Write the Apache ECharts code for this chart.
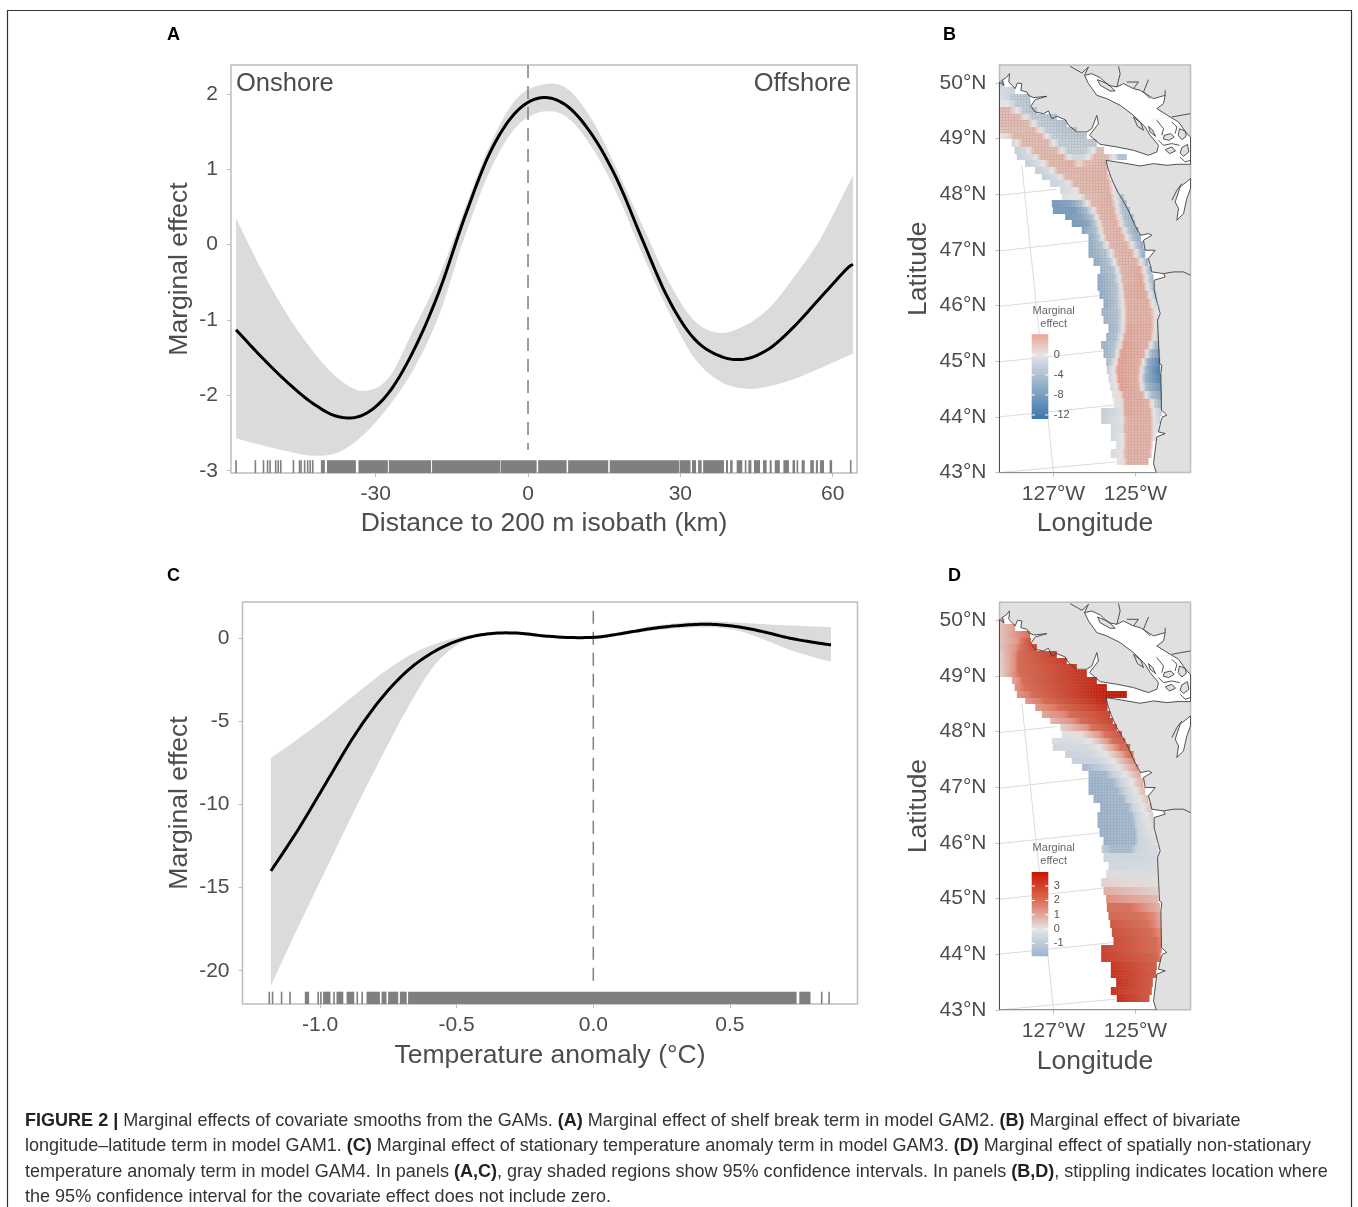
<!DOCTYPE html>
<html><head><meta charset="utf-8">
<script src="https://cdn.jsdelivr.net/npm/echarts@6/dist/echarts.min.js"></script>
<style>html,body{margin:0;padding:0;background:#fff}#c{width:1358px;height:1207px}</style>
</head><body><div id="c"></div>
<script>
// ---------- Panel A ----------
const distKm=[-57.5,-52.5,-47.5,-42.5,-37.5,-32.5,-27.5,-22.5,-17.5,-12.5,-7.5,-2.5,2.5,7.5,12.5,17.5,22.5,27.5,32.5,37.5,42.5,47.5,52.5,57.5,62.5,64];
const shelfEffect=[-1.13,-1.49,-1.82,-2.1,-2.28,-2.26,-1.97,-1.4,-0.62,0.36,1.22,1.75,1.95,1.85,1.47,0.87,0.07,-0.7,-1.23,-1.47,-1.52,-1.38,-1.08,-0.71,-0.34,-0.26];
const shelfUpper=[0.35,-0.33,-0.92,-1.4,-1.77,-1.94,-1.77,-1.12,-0.42,0.47,1.32,1.92,2.12,2.08,1.67,1.0,0.26,-0.46,-0.99,-1.17,-1.08,-0.84,-0.42,0.07,0.72,0.92];
const shelfLower=[-2.57,-2.66,-2.74,-2.8,-2.76,-2.53,-2.15,-1.65,-0.93,0.1,0.98,1.55,1.76,1.7,1.3,0.68,-0.12,-0.86,-1.48,-1.8,-1.91,-1.88,-1.78,-1.64,-1.49,-1.45];
const rugA=[[-57.5,-57.5],[-53.7,-53.7],[-52.1,-52.1],[-51.3,-51.3],[-50.8,-50.8],[-49.7,-49.7],[-49.2,-49.2],[-48.7,-48.7],[-46.2,-46.2],[-45,-45],[-44.7,-44.7],[-44,-44],[-43.4,-43.4],[-42.9,-42.9],[-42.4,-42.4],[-40.8,-40],[-39.6,-33.9],[-33.4,-27.6],[-27.4,-19.1],[-18.9,-5.5],[-5.4,1.7],[2,7.6],[7.9,15.8],[16.1,29.8],[29.9,32],[32.3,33.1],[33.5,34.2],[34.5,38.6],[39,39.4],[39.8,40.3],[41.1,42.2],[42.7,43],[43.4,44],[44.5,45.7],[46.3,47],[47.6,48],[48.6,49.6],[50.3,51.4],[52.1,52.6],[52.9,53.2],[53.9,54.5],[55.6,56.3],[56.7,57.1],[57.5,58.3],[59.4,59.9],[63.4,63.7]];
// ---------- Panel C ----------
const tempAnom=[-1.18,-1.08,-0.98,-0.88,-0.78,-0.68,-0.58,-0.48,-0.38,-0.28,-0.18,-0.08,0.02,0.12,0.22,0.32,0.42,0.52,0.62,0.72,0.82,0.87];
const tempEffect=[-14,-11.5,-8.75,-6,-3.7,-1.95,-0.78,-0.06,0.27,0.31,0.14,0.04,0.08,0.33,0.6,0.77,0.84,0.71,0.4,0,-0.28,-0.4];
const tempUpper=[-7.2,-6.05,-4.82,-3.5,-2.2,-1.1,-0.34,0.1,0.35,0.39,0.22,0.12,0.16,0.44,0.74,0.93,1.02,0.95,0.85,0.77,0.7,0.66];
const tempLower=[-20.9,-17.35,-13.95,-10.55,-7.3,-4.2,-1.6,-0.22,0.2,0.23,0.07,-0.03,0,0.22,0.46,0.61,0.66,0.5,-0.05,-0.7,-1.2,-1.4];
const rugC=[[-1.186,-1.186],[-1.174,-1.174],[-1.141,-1.141],[-1.11,-1.11],[-1.056,-1.04],[-1.007,-1.007],[-0.997,-0.997],[-0.989,-0.962],[-0.952,-0.946],[-0.94,-0.915],[-0.903,-0.875],[-0.864,-0.864],[-0.846,-0.846],[-0.83,-0.781],[-0.775,-0.757],[-0.751,-0.714],[-0.708,-0.683],[-0.678,0.744],[0.754,0.795],[0.836,0.836],[0.863,0.863]];
// ---------- Map panels: projected easting / northing units ----------
const eastTicks=[460,706], eastLabels=['127°W','125°W'];
const northTicks=[188,355,522,689,856,1023,1190,1357], northLabels=['50°N','49°N','48°N','47°N','46°N','45°N','44°N','43°N'];
const oceanAndSea=[[298,185],[312,195],[305,180],[318,172],[328,160],[326,185],[345,205],[352,188],[365,190],[362,210],[380,215],[385,225],[400,232],[440,228],[405,238],[392,258],[405,275],[430,280],[445,272],[455,295],[470,288],[495,298],[505,315],[530,335],[560,335],[575,325],[590,285],[595,310],[568,345],[600,372],[650,380],[700,390],[745,405],[770,395],[775,375],[750,345],[735,320],[700,285],[660,255],[620,235],[590,225],[565,190],[553,165],[575,160],[600,172],[625,195],[650,200],[670,190],[700,205],[720,210],[760,235],[795,225],[790,250],[770,265],[810,290],[835,305],[860,340],[871,350],[871,432],[830,432],[800,435],[760,430],[720,437],[680,430],[650,425],[618,420],[622,440],[632,470],[650,510],[665,535],[682,565],[700,605],[712,630],[722,645],[745,640],[755,645],[730,660],[735,690],[765,690],[745,715],[755,755],[790,760],[795,770],[762,780],[762,810],[772,850],[780,880],[772,900],[778,1030],[785,1035],[782,1060],[784,1170],[800,1185],[787,1190],[783,1200],[775,1235],[795,1240],[770,1250],[760,1330],[768,1357],[298,1357]];
const pugetInlet=[[871,475],[840,500],[825,545],[835,565],[830,600],[850,580],[860,535],[871,505]];
const islands=[[[592,178],[625,192],[645,212],[630,212],[600,195]],[[700,290],[722,308],[730,330],[712,318]],[[745,318],[758,330],[766,348],[750,335]],[[792,345],[812,340],[822,350],[806,360],[790,356]],[[838,325],[856,333],[858,348],[845,358],[834,345]],[[795,388],[815,380],[826,392],[808,400]],[[845,382],[862,372],[866,395],[850,408],[840,398]]];
const shoreLines=[[[790,760],[820,755],[850,755],[871,765]],[[815,290],[871,280]],[[510,138],[545,158],[565,140],[553,165]],[[655,138],[660,160],[650,200]],[[680,185],[715,185],[700,205]],[[745,178],[730,215],[750,235]],[[795,210],[795,225]],[[770,300],[790,325],[785,345]],[[815,305],[830,320],[825,340]],[[775,360],[790,375],[815,370],[838,375]],[[840,410],[855,425],[871,420]],[[815,540],[830,510],[845,490]]];
const graticule=[[[298,1357],[650,1325]],[[298,1190],[640,1155]],[[298,1025],[610,992]],[[298,858],[600,826]],[[298,692],[565,662]],[[298,525],[470,507]],[[460,1357],[365,435]],[[750,300],[815,290]],[[553,135],[562,190]]];
const rowNorthing=[190,210,230,250,270,290,310,330,345,370,390,410,430,450,470,490,510,530,550,570,590,610,630,650,675,700,725,750,775,800,825,850,875,900,925,950,975,1000,1025,1050,1075,1100,1125,1150,1175,1200,1225,1250,1275,1300,1325];
const fieldB=[
[[298,-2],[312,-2]],
[[298,-1],[345,-2]],
[[298,-0.5],[330,-2],[390,-3]],
[[298,0],[320,0],[345,-2],[392,-3]],
[[298,2.5],[330,2.5],[350,0],[365,-2],[410,-3.5]],
[[298,2.5],[360,2.5],[375,0],[392,-2],[470,-3.5]],
[[298,2.5],[385,2.5],[400,0],[415,-2],[500,-3.5]],
[[298,2],[405,2.5],[420,0],[435,-2],[530,-3.5]],
[[298,0],[320,0.5],[340,2.5],[425,2.5],[440,0],[455,-2],[560,-3]],
[[335,-2],[350,0],[365,2.5],[445,2.5],[460,0],[475,-2],[590,-2.5]],
[[343,-2.5],[375,-1.5],[385,0],[398,2.5],[470,2.5],[485,0],[500,-2],[560,-2],[580,0],[590,2],[612,2]],
[[350,-2.5],[395,-1],[408,0],[420,2.5],[490,2.8],[505,0],[520,-1.5],[545,-1.5],[565,0],[580,2.5],[625,2],[640,0],[655,-3],[680,-3]],
[[375,-2.5],[415,-1],[430,0],[445,2.5],[520,3],[535,1],[550,2],[620,3]],
[[405,-2.5],[445,-1],[458,0],[470,2.5],[622,3]],
[[425,-2.5],[468,-1],[482,0],[495,2.5],[620,3],[630,0.5]],
[[450,-2],[490,-1],[505,0],[520,2.5],[625,3],[638,0],[645,-1]],
[[480,-1.5],[515,-0.5],[528,0],[540,2.5],[628,3],[640,0],[655,-2]],
[[485,-0.5],[540,0],[555,2],[632,3],[645,0],[660,-3],[672,-3]],
[[455,-8],[510,-7],[545,-3],[562,0],[575,2.5],[635,3],[650,0],[662,-3],[680,-3.5]],
[[458,-8],[520,-8],[560,-4],[580,0],[592,2.5],[640,3],[652,0],[665,-3],[690,-4]],
[[495,-8],[540,-7],[578,-3],[590,0],[600,2.5],[645,3],[658,0],[670,-3],[700,-5]],
[[515,-8],[560,-7],[585,-3],[597,0],[608,2.5],[650,3],[663,0],[675,-3],[705,-5]],
[[545,-7],[590,-3],[602,0],[612,2.5],[660,3],[672,0],[685,-3],[715,-6]],
[[565,-6],[595,-3],[607,0],[618,2.5],[668,3],[680,0],[695,-3],[722,-6]],
[[565,-6],[605,-3],[620,0],[630,2.5],[680,3],[695,0],[708,-3],[730,-6]],
[[565,-6],[620,-3],[633,0],[645,2.5],[695,3],[708,0],[720,-3],[735,-6]],
[[580,-6],[630,-3],[643,0],[652,2.5],[710,3],[722,0],[735,-3],[745,-5]],
[[600,-5],[640,-3],[652,0],[662,2.5],[720,3.5],[732,0],[745,-3],[755,-4]],
[[592,-6],[645,-3],[658,0],[667,2.5],[725,3.5],[737,0],[750,-3],[760,-4]],
[[592,-6],[650,-3],[662,0],[672,3],[730,3.5],[742,0],[752,-2],[765,-3]],
[[598,-6],[650,-3],[665,0],[675,3],[738,3.5],[750,0],[760,-2],[770,-3]],
[[610,-6],[650,-3],[668,0],[678,3],[745,3],[758,0],[770,-2]],
[[604,-5],[655,-3],[670,0],[680,3],[752,3],[765,0],[775,-1]],
[[610,-5],[655,-3],[670,0],[680,3],[755,3],[765,0],[775,-1]],
[[625,-5],[655,-3],[668,0],[680,3.5],[755,3],[765,0],[775,-2]],
[[618,-5],[650,-3],[663,0],[675,3.5],[752,3],[762,0],[775,-3]],
[[603,-5],[645,-3],[660,0],[670,4],[742,3],[752,0],[765,-4],[777,-5]],
[[610,-5],[640,-3],[652,0],[662,4],[730,3],[740,0],[752,-4],[778,-8]],
[[618,-4],[635,-2],[647,0],[657,4],[720,3],[730,0],[742,-5],[780,-11]],
[[620,-3],[630,-1],[642,0],[652,4],[715,3],[725,0],[738,-5],[780,-12]],
[[625,-1.5],[645,0],[655,4],[712,3],[722,0],[735,-5],[782,-11]],
[[630,-1],[650,0],[660,4],[715,3],[725,0],[738,-4],[783,-9]],
[[635,0],[660,0.5],[670,3.5],[728,3],[738,0],[750,-3],[785,-7]],
[[640,0],[665,0.5],[675,3.5],[745,3],[755,0],[765,-2],[785,-5]],
[[603,-2.5],[640,-1.5],[665,-0.5],[675,3.5],[750,3],[760,0],[772,-1.5],[785,-3]],
[[603,-2.5],[640,-1],[667,-0.3],[677,3],[752,3],[762,0],[780,-2]],
[[632,-1.5],[665,-0.5],[675,3],[752,3],[762,0],[775,-1]],
[[632,-1.5],[668,0],[678,3],[752,3],[762,0],[768,-1]],
[[648,-1],[668,0],[678,3],[750,3],[758,0.5]],
[[632,-1],[665,0],[677,3],[748,3],[755,1]],
[[650,0],[670,0.5],[680,3],[745,3]]];
const fieldD=[
[[298,0.5],[312,1]],
[[298,0.5],[345,1.2]],
[[298,0.5],[330,1],[390,2]],
[[298,0.5],[350,1.2],[365,1.9],[392,2.8]],
[[298,0.5],[345,1.3],[360,1.9],[410,3]],
[[298,0.3],[345,1.4],[355,2],[470,3.1]],
[[298,0.3],[345,1.4],[352,2],[500,3.2]],
[[298,0.3],[345,1.4],[352,2],[530,3.2]],
[[298,0.2],[320,0.8],[345,1.5],[355,2],[560,3.4]],
[[335,1],[358,1.5],[365,2],[590,3.6]],
[[343,1.2],[365,1.7],[375,2],[620,3.8]],
[[350,1.3],[385,1.7],[395,2],[600,3.7],[680,4]],
[[375,1.2],[420,1.7],[430,2],[620,3.7]],
[[405,1.2],[460,1.7],[475,2],[622,3.4]],
[[425,1],[490,1.5],[510,2],[630,3]],
[[450,0.7],[520,1.4],[540,2],[638,3]],
[[480,0.3],[560,1.3],[575,1.9],[650,2.8]],
[[485,-0.2],[540,0.1],[600,1.3],[615,1.9],[665,2.6]],
[[455,-0.3],[530,-0.3],[570,0],[620,1.2],[635,1.9],[675,2.4]],
[[458,-0.5],[560,-0.4],[600,0],[640,1.1],[660,1.9],[690,2.2]],
[[495,-0.7],[570,-0.5],[620,0],[665,1.1],[685,1.9],[700,2]],
[[515,-0.8],[590,-0.6],[640,0],[680,1],[705,1.6]],
[[545,-1.1],[560,-1.5],[610,-0.8],[655,0],[700,1],[715,1.4]],
[[565,-1.7],[620,-1.5],[640,-0.7],[675,0],[722,1]],
[[565,-1.8],[640,-1.5],[660,-0.7],[695,0],[730,1]],
[[565,-1.8],[655,-1.5],[675,-0.7],[705,0],[735,0.8]],
[[580,-1.8],[670,-1.5],[685,-0.6],[720,0],[745,0.7]],
[[600,-1.8],[685,-1.5],[700,-0.6],[730,0],[755,0.6]],
[[592,-1.8],[695,-1.5],[710,-0.6],[740,0],[760,0.4]],
[[592,-1.8],[700,-1.5],[712,-0.6],[745,-0.1],[765,0.2]],
[[598,-1.8],[705,-1.5],[715,-0.6],[750,-0.2],[770,0]],
[[610,-1.8],[705,-1.5],[718,-0.6],[770,-0.2]],
[[604,-0.9],[630,-1.4],[695,-1.4],[712,-0.6],[775,-0.3]],
[[610,-0.6],[720,-0.5],[775,-0.3]],
[[625,-0.5],[775,-0.3]],
[[618,-0.3],[775,-0.3]],
[[603,0.3],[775,0.1]],
[[610,0.9],[700,0.6],[775,0.3]],
[[618,1.4],[775,0.7]],
[[620,1.9],[690,1.9],[745,1.2],[780,0.8]],
[[625,2.1],[730,1.9],[760,1.5],[782,0.9]],
[[630,2.5],[745,1.9],[765,1.5],[783,1]],
[[635,2.7],[755,2],[785,1.3]],
[[640,2.8],[770,2],[785,1.5]],
[[603,3],[770,2],[785,1.6]],
[[603,3.1],[770,2.2],[782,1.6]],
[[632,3.3],[770,2.3]],
[[632,3.4],[768,2.4]],
[[648,3.4],[758,2.4]],
[[632,3.4],[755,2.4]],
[[650,3.5],[748,2.5]]];
const scaleBValues=[-12.8,0,4.1], scaleBColors=['#3A75AE','#E4E4E4','#E9A595'];
const scaleDValues=[-1.9,0,2,3.98], scaleDColors=['#9DB4CF','#E4E4E4','#DE6C55','#C81400'];
const legendBTicks=[0,-4,-8,-12], legendDTicks=[3,2,1,0,-1];
const captionLines=[
'{b|FIGURE 2 |} Marginal effects of covariate smooths from the GAMs. {b|(A)} Marginal effect of shelf break term in model GAM2. {b|(B)} Marginal effect of bivariate',
'longitude–latitude term in model GAM1. {b|(C)} Marginal effect of stationary temperature anomaly term in model GAM3. {b|(D)} Marginal effect of spatially non-stationary',
'temperature anomaly term in model GAM4. In panels {b|(A,C)}, gray shaded regions show 95% confidence intervals. In panels {b|(B,D)}, stippling indicates location where',
'the 95% confidence interval for the covariate effect does not include zero.'];

const FONT='"Liberation Sans",Arial,sans-serif', TXT='#4D4D4D', EDGE='#BDBDBD', RUG='#7F7F7F', BAND='#DBDBDB';
function hex(c){return [1,3,5].map(i=>parseInt(c.substr(i,2),16));}
function scaleColor(vals,cols,v){
  if(v<=vals[0])return cols[0];
  for(let i=1;i<vals.length;i++){ if(v<=vals[i]){const t=(v-vals[i-1])/(vals[i]-vals[i-1]);const a=hex(cols[i-1]),b=hex(cols[i]);return 'rgb('+a.map((x,k)=>Math.round(x+(b[k]-x)*t)).join(',')+')';}}
  return cols[cols.length-1];
}
const patCanvas=document.createElement('canvas');patCanvas.width=3;patCanvas.height=3;
(function(){const g=patCanvas.getContext('2d');g.fillStyle='rgba(130,130,130,0.2)';g.fillRect(0,0,3,1);g.fillRect(0,1,1,2);})();

function axisCommon(){return {type:'value',axisLine:{show:false,onZero:false},splitLine:{show:false},
  axisTick:{show:true,length:4,lineStyle:{color:EDGE,width:1}},
  nameTextStyle:{color:TXT,fontFamily:FONT,fontSize:26.5}};}
function makeX(i,min,max,ticks,name,gap,fmt){const a=axisCommon();return Object.assign(a,{gridIndex:i,min,max,name,nameLocation:'middle',nameGap:gap,
  axisTick:Object.assign(a.axisTick,{customValues:ticks}),
  axisLabel:{customValues:ticks,color:TXT,fontFamily:FONT,fontSize:21,margin:11,formatter:fmt}});}
function makeY(i,min,max,ticks,name,gap,fmt,inv){const a=axisCommon();return Object.assign(a,{gridIndex:i,min,max,inverse:!!inv,name,nameLocation:'middle',nameGap:gap,
  axisTick:Object.assign(a.axisTick,{customValues:ticks}),
  axisLabel:{customValues:ticks,color:TXT,fontFamily:FONT,fontSize:21,margin:13,formatter:fmt}});}
function gridOf(left,top,width,height,bg){return {left,top,width,height,show:true,backgroundColor:bg||'#fff',borderColor:EDGE,borderWidth:1.5};}

function smoothEdge(pts){const out=[];for(let i=0;i<pts.length-1;i++){const p0=pts[i-1]||pts[i],p1=pts[i],p2=pts[i+1],p3=pts[i+2]||p2;
  const c1=[p1[0]+(p2[0]-p0[0])/6,p1[1]+(p2[1]-p0[1])/6],c2=[p2[0]-(p3[0]-p1[0])/6,p2[1]-(p3[1]-p1[1])/6];
  for(let k=0;k<10;k++){const t=k/10,u=1-t;out.push([u*u*u*p1[0]+3*u*u*t*c1[0]+3*u*t*t*c2[0]+t*t*t*p2[0],u*u*u*p1[1]+3*u*u*t*c1[1]+3*u*t*t*c2[1]+t*t*t*p2[1]]);}}
  out.push(pts[pts.length-1]);return out;}
function ribbon(ax,xs,up,lo){return {type:'custom',xAxisIndex:ax,yAxisIndex:ax,z:2,clip:true,data:[[xs[0],lo[0]]],
  renderItem(p,api){const L=smoothEdge(xs.map((x,i)=>api.coord([x,lo[i]]))),U=smoothEdge(xs.map((x,i)=>api.coord([x,up[i]])));
    return {type:'polygon',shape:{points:L.concat(U.reverse())},style:{fill:BAND}};}};}
function curve(ax,xs,ys){return {type:'custom',xAxisIndex:ax,yAxisIndex:ax,z:4,clip:true,data:[[xs[0],ys[0]]],
  renderItem(p,api){return {type:'polyline',shape:{points:smoothEdge(xs.map((x,i)=>api.coord([x,ys[i]])))},style:{fill:'none',stroke:'#000',lineWidth:3,lineJoin:'round'}};}};}
function vline(ax,y0,y1){return {type:'line',xAxisIndex:ax,yAxisIndex:ax,data:[[0,y0],[0,y1]],symbol:'none',lineStyle:{color:'#7F7F7F',width:1.5,type:[13,8]},z:3};}
function rug(ax,runs,y0,y1){return {type:'custom',xAxisIndex:ax,yAxisIndex:ax,z:5,data:runs,encode:{x:[0,1]},
  renderItem(p,api){const a=api.coord([api.value(0),y0]),b=api.coord([api.value(1),y1]);const w=Math.max(1.6,b[0]-a[0]);
   return {type:'rect',shape:{x:a[0]-(b[0]===a[0]?0.8:0),y:b[1],width:w,height:a[1]-b[1]},style:{fill:RUG}};}};}
function polys(ax,list,style,shape,z){return {type:'custom',xAxisIndex:ax,yAxisIndex:ax,z,clip:true,data:list.map((_,i)=>[list[i][0][0],list[i][0][1]]),
  renderItem(p,api){const pts=list[p.dataIndex].map(q=>api.coord(q));return {type:shape,shape:{points:pts},style:Object.assign({},style)};}};}
function field(ax,rows,vals,cols,stipple){return {type:'custom',xAxisIndex:ax,yAxisIndex:ax,z:3,clip:true,data:rows.map((r,i)=>[r[0][0],rowNorthing[i]]),
  renderItem(p,api){const i=p.dataIndex,r=rows[i],n=rowNorthing;
   const top=i?(n[i-1]+n[i])/2:n[0]-10, bot=i<n.length-1?(n[i]+n[i+1])/2:1335;
   const x0=r[0][0],x1=r[r.length-1][0],a=api.coord([x0,top]),b=api.coord([x1,bot]);
   const yT=Math.round(a[1]),yB=Math.round(b[1]);
   const grad=new echarts.graphic.LinearGradient(0,0,1,0,r.map(s=>({offset:(s[0]-x0)/(x1-x0),color:scaleColor(vals,cols,s[1])})));
   const kids=[{type:'rect',shape:{x:a[0],y:yT,width:b[0]-a[0],height:yB-yT},style:{fill:grad}}];
   for(let k=0;k<r.length-1;k++){ if(stipple(r[k][1])&&stipple(r[k+1][1])){const c=api.coord([r[k][0],top]),d=api.coord([r[k+1][0],bot]);
     kids.push({type:'rect',shape:{x:c[0],y:yT,width:d[0]-c[0],height:yB-yT},style:{fill:{image:patCanvas,repeat:'repeat'}}});}}
   return {type:'group',children:kids};}};}
function mapSeries(ax,rows,vals,cols,stipple){return [
  polys(ax,[oceanAndSea,pugetInlet],{fill:'#fff'},'polygon',1),
  polys(ax,graticule.slice(0,7),{stroke:'#DCDCDC',lineWidth:1,fill:'none'},'polyline',2),
  polys(ax,graticule.slice(7),{stroke:'#EDEDED',lineWidth:1,fill:'none'},'polyline',2),
  field(ax,rows,vals,cols,stipple),
  polys(ax,[oceanAndSea].concat([pugetInlet],islands),{fill:'none',stroke:'#3F3F3F',lineWidth:0.9},'polygon',6),
  polys(ax,islands,{fill:'#E0E0E0'},'polygon',5),
  polys(ax,shoreLines,{fill:'none',stroke:'#3F3F3F',lineWidth:0.9},'polyline',6)];}

function txt(x,y,text,size,color,align,weight){return {type:'text',x,y,z:100,style:{text,fontFamily:FONT,fontSize:size,fill:color,align:align||'left',verticalAlign:'middle',fontWeight:weight||'normal'},silent:true};}
function legend(left,top,bottom,vals,cols,ticks,titleY){
  const W=16.6,H=bottom-top,vmin=vals[0],vmax=vals[vals.length-1];
  const stops=vals.map((v,i)=>({offset:(vmax-v)/(vmax-vmin),color:cols[i]})).reverse();
  const out=[{type:'rect',z:100,shape:{x:left,y:top,width:W,height:H},style:{fill:new echarts.graphic.LinearGradient(0,0,0,1,stops)}}];
  ticks.forEach(t=>{const y=top+(vmax-t)/(vmax-vmin)*H;
    out.push({type:'rect',z:101,shape:{x:left,y:y-0.5,width:3.3,height:1},style:{fill:'#fff'}});
    out.push({type:'rect',z:101,shape:{x:left+W-3.3,y:y-0.5,width:3.3,height:1},style:{fill:'#fff'}});
    out.push(txt(left+W+5.5,y,String(t),11,'#555'));});
  out.push(txt(left+22,titleY,'Marginal',11,'#666','center'));
  out.push(txt(left+22,titleY+12.5,'effect',11,'#666','center'));
  return out;}

const graphics=[
 {type:'rect',z:0,shape:{x:7.5,y:10.5,width:1344,height:1230},style:{fill:'none',stroke:'#333',lineWidth:1.2}},
 txt(167,35,'A',18,'#000','left','bold'),txt(943,35,'B',18,'#000','left','bold'),
 txt(167,576,'C',18,'#000','left','bold'),txt(948,576,'D',18,'#000','left','bold'),
 txt(236,84,'Onshore',25.5,TXT,'left'),txt(851,84,'Offshore',25.5,TXT,'right'),
 ...legend(1031.7,334.3,419,scaleBValues,scaleBColors,legendBTicks,311),
 ...legend(1031.7,872,956.3,scaleDValues,scaleDColors,legendDTicks,848),
 ...captionLines.map((t,i)=>({type:'text',z:100,x:25,y:[1121,1146.5,1172,1197][i],style:{text:t,fontFamily:FONT,fontSize:18.05,fill:'#333',verticalAlign:'middle',
    rich:{b:{fontFamily:FONT,fontSize:18.05,fontWeight:'bold',fill:'#222'}}}}))
];

const eastFmt=v=>eastLabels[eastTicks.indexOf(v)], northFmt=v=>northLabels[northTicks.indexOf(v)];
const chart=echarts.init(document.getElementById('c'),null,{renderer:'canvas'});
chart.setOption({animation:false,backgroundColor:'#fff',
 grid:[gridOf(231,65,626,408),gridOf(242.5,602,615,402),gridOf(999.5,65,191,407.5,'#E0E0E0'),gridOf(999.5,602.3,191,407.5,'#E0E0E0')],
 xAxis:[makeX(0,-58.5,64.8,[-30,0,30,60],'Distance to 200 m isobath (km)',37,v=>String(v)),
        makeX(1,-1.284,0.967,[-1,-0.5,0,0.5],'Temperature anomaly (°C)',38,v=>v.toFixed(1)),
        makeX(2,298,871,eastTicks,'Longitude',38,eastFmt),
        makeX(3,298,871,eastTicks,'Longitude',38,eastFmt)],
 yAxis:[makeY(0,-3.03,2.385,[-3,-2,-1,0,1,2],'Marginal effect',38,v=>String(v)),
        makeY(1,-22,2.18,[-20,-15,-10,-5,0],'Marginal effect',49.5,v=>String(v)),
        makeY(2,134,1357,northTicks,'Latitude',67,northFmt,true),
        makeY(3,134,1357,northTicks,'Latitude',67,northFmt,true)],
 graphic:graphics,
 series:[
  ribbon(0,distKm,shelfUpper,shelfLower),vline(0,2.385,-2.72),curve(0,distKm,shelfEffect),rug(0,rugA,-3.03,-2.86),
  ribbon(1,tempAnom,tempUpper,tempLower),vline(1,1.66,-20.6),curve(1,tempAnom,tempEffect),rug(1,rugC,-22,-21.26),
  ...mapSeries(2,fieldB,scaleBValues,scaleBColors,v=>Math.abs(v)>=2),
  ...mapSeries(3,fieldD,scaleDValues,scaleDColors,v=>v>=1.9||v<=-1.1)
 ]});
</script></body></html>
